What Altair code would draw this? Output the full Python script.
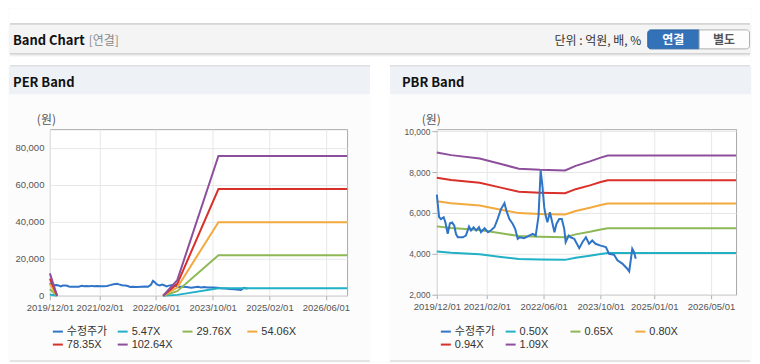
import altair as alt
import pandas as pd

# ---------------- data ----------------
price_dates = [
    "2019-12-01", "2019-12-20", "2020-01-05", "2020-01-28", "2020-02-12", "2020-03-03",
    "2020-03-22", "2020-04-10", "2020-04-28", "2020-05-12", "2020-05-28", "2020-07-10",
    "2020-08-05", "2020-09-01", "2020-09-18", "2020-10-10", "2020-11-01", "2020-11-25",
    "2020-12-12", "2021-01-12", "2021-02-10", "2021-03-06", "2021-04-06", "2021-05-03",
    "2021-06-01", "2021-07-01", "2021-07-18", "2021-08-12", "2021-09-10", "2021-10-01",
    "2021-10-22", "2021-11-10", "2021-12-15", "2022-01-28", "2022-02-28", "2022-03-25",
    "2022-04-18", "2022-05-06", "2022-05-21", "2022-06-06", "2022-06-18", "2022-07-03",
    "2022-07-24", "2022-08-10", "2022-09-01", "2022-09-18", "2022-10-12", "2022-11-03",
    "2022-11-24", "2022-12-06", "2023-01-01", "2023-01-18", "2023-02-18", "2023-04-01",
    "2023-04-28", "2023-05-28", "2023-06-24", "2023-07-21", "2023-08-18", "2023-10-01",
    "2023-11-15", "2023-12-12", "2024-01-24", "2024-02-21", "2024-04-03", "2024-05-15",
    "2024-06-01", "2024-06-12", "2024-06-27", "2024-07-12", "2024-07-27",
]
price_vals = [
    6900, 5800, 5700, 5790, 5540, 4980,
    5500, 5540, 5380, 4980, 4810, 4810,
    4890, 5330, 5140, 5300, 5140, 5300,
    5060, 5250, 5060, 5140, 5300, 5700,
    6190, 6480, 6100, 5700, 5460, 5210,
    4730, 4810, 4760, 4890, 4980, 4890,
    5850, 8080, 7330, 6270, 5870, 5540,
    6030, 5620, 5060, 5460, 5700, 5700,
    5210, 4570, 4890, 4810, 4730, 4280,
    4570, 4810, 4490, 4650, 4490, 4400,
    4330, 4000, 3950, 3680, 3520, 3270,
    3140, 3600, 4250, 4080, 3760,
]

price_name = "수정주가"

# PER band (two separate segments: 0 and 1)
per_names = ["5.47X", "29.76X", "54.06X", "78.35X", "102.64X"]
per_dates = ["2019-12-01", "2020-02-01", "2022-08-01", "2022-12-01", "2023-11-20", "2026-12-01"]
per_segs = [0, 0, 1, 1, 1, 1]
per_547 = [640, 0, 0, 450, 4020, 4020]
per_2976 = [3500, 0, 0, 2440, 21880, 21880]
per_5406 = [6360, 0, 0, 4430, 39750, 39750]
per_7835 = [9210, 0, 0, 6420, 57610, 57610]
per_10264 = [12070, 0, 0, 8420, 75470, 75470]

# PBR band
pbr_names = ["0.50X", "0.65X", "0.80X", "0.94X", "1.09X"]
pbr_dates = ["2019-12-01", "2020-04-01", "2020-12-01", "2021-06-01", "2021-11-01", "2022-05-01",
             "2022-12-01", "2023-03-01", "2023-07-01", "2023-10-01", "2023-12-01", "2026-12-01"]
pbr_050 = [4110, 4050, 3975, 3850, 3745, 3720, 3705, 3810, 3910, 3995, 4040, 4040]
pbr_065 = [5343, 5265, 5168, 5005, 4869, 4836, 4817, 4953, 5083, 5194, 5252, 5252]
pbr_080 = [6576, 6480, 6360, 6160, 5992, 5952, 5928, 6096, 6256, 6392, 6464, 6464]
pbr_094 = [7727, 7614, 7473, 7238, 7041, 6994, 6965, 7163, 7351, 7511, 7595, 7595]
pbr_109 = [8960, 8829, 8666, 8393, 8164, 8110, 8077, 8306, 8524, 8709, 8807, 8807]

per_ticks = [(2019, 12), (2021, 2), (2022, 6), (2023, 10), (2025, 2), (2026, 6)]
pbr_ticks = [(2019, 12), (2021, 2), (2022, 6), (2023, 10), (2025, 1), (2026, 5)]
per_yticks = [0, 20000, 40000, 60000, 80000]
pbr_yticks = [2000, 4000, 6000, 8000, 10000]

colors = ["#2f74c6", "#21b1c6", "#8db855", "#f2a93d", "#d9302a", "#8d4f9c"]

# ---------------- frames ----------------
price_df = pd.DataFrame({"date": price_dates, "value": price_vals, "series": price_name})

per_vals = [per_547, per_2976, per_5406, per_7835, per_10264]
per_df = pd.concat([
    pd.DataFrame({"date": per_dates, "value": v, "series": n, "seg": per_segs})
    for n, v in zip(per_names, per_vals)
], ignore_index=True)

pbr_vals = [pbr_050, pbr_065, pbr_080, pbr_094, pbr_109]
pbr_df = pd.concat([
    pd.DataFrame({"date": pbr_dates, "value": v, "series": n})
    for n, v in zip(pbr_names, pbr_vals)
], ignore_index=True)

one = pd.DataFrame({"k": [0]})

LATIN = "Liberation Sans, Noto Sans CJK KR"
KR = "Noto Sans CJK KR"
RIGHT = 703  # right edge of the page content, relative to the PER plot origin


def dt(y, m):
    return alt.DateTime(year=y, month=m, date=1, utc=True)


def x_enc(ticks):
    return alt.X(
        "date:T",
        scale=alt.Scale(type="utc", domain=[dt(2019, 12), dt(2026, 12)]),
        axis=alt.Axis(
            values=[dt(y, m) for y, m in ticks],
            labelExpr="utcFormat(datum.value, '%Y/%m/%d')",
            title=None, grid=True, gridColor="#e7e7e7", domain=False,
            ticks=True, tickSize=4, tickColor="#b0b0b0",
            labelFont=LATIN, labelFontSize=9.5, labelColor="#555555",
            labelPadding=3, labelFlush=False, labelOverlap=False, labelBound=False,
        ),
    )


def y_enc(domain, ticks, title_x, small):
    return alt.Y(
        "value:Q",
        scale=alt.Scale(domain=domain, nice=False, zero=False),
        axis=alt.Axis(
            values=ticks, format=",d", title="(원)", titleAngle=0,
            titleX=title_x, titleY=-10, titleAlign="center", titleBaseline="middle",
            titleFont=KR, titleFontSize=12, titleFontWeight="normal", titleColor="#555555",
            grid=True, gridColor="#e7e7e7", domain=False,
            ticks=small, tickSize=5, tickColor="#b0b0b0",
            labelPadding=2 if small else 6,
            labelFont=LATIN, labelFontSize=8.5 if small else 9.5, labelColor="#555555",
        ),
    )


def color_enc(names, lx):
    return alt.Color(
        "series:N",
        scale=alt.Scale(domain=[price_name] + names, range=colors),
        legend=alt.Legend(
            title=None, orient="none", legendX=lx, legendY=197, direction="horizontal",
            columns=4, gridAlign="all", columnPadding=6, rowPadding=2,
            symbolType="stroke", symbolSize=100, symbolStrokeWidth=2,
            labelFont=LATIN, labelFontSize=11, labelColor="#333333", labelOffset=3,
            padding=0, labelLimit=200,
        ),
    )


# ---------------- decoration helpers (pixel positions relative to PER plot) ----------------
def rect(x, x2, y, y2, fill, **kw):
    return alt.Chart(one).mark_rect(fill=fill, **kw).encode(
        x=alt.value(x), x2=alt.value(x2), y=alt.value(y), y2=alt.value(y2))


def hline(x, x2, y, color):
    return alt.Chart(one).mark_rule(color=color, strokeWidth=1).encode(
        x=alt.value(x), x2=alt.value(x2), y=alt.value(y))


def label(x, y, s, **kw):
    return alt.Chart(one).mark_text(text=s, baseline="alphabetic", **kw).encode(
        x=alt.value(x), y=alt.value(y))


deco = [
    rect(-41, RIGHT, -120, -105, "white"),
    rect(-41, RIGHT, -105, -75, "#f4f4f4"),
    hline(-40, RIGHT - 1, -105.5, "#b8b8b8"),
    rect(-41, RIGHT, -75, -64, "white"),
    hline(-40, RIGHT - 1, -75.5, "#c2c2c2"),
    hline(-40, RIGHT - 1, -74.5, "#dcdcdc"),
    hline(-40, RIGHT - 1, -73.5, "#eeeeee"),
    label(-37, -84, "Band Chart", font=KR, fontSize=13, fontWeight="bold", color="#111111", align="left"),
    label(39, -84, "[연결]", font=KR, fontSize=12, color="#8a8a8a", align="left"),
    label(593, -84.5, "단위 : 억원, 배, %", font=KR, fontSize=12, color="#333333", align="right"),
    rect(599.5, 651, -99.5, -80.5, "#3372b9", stroke="#2a619f", strokeWidth=1,
         cornerRadiusTopLeft=3, cornerRadiusBottomLeft=3),
    rect(651, 701.5, -99.5, -80.5, "#fdfdfd", stroke="#b0b0b0", strokeWidth=1,
         cornerRadiusTopRight=3, cornerRadiusBottomRight=3),
    label(625, -85.5, "연결", font=KR, fontSize=12, fontWeight="bold", color="white", align="center"),
    label(676, -85.5, "별도", font=KR, fontSize=12, fontWeight="bold", color="#555555", align="center"),
    rect(-41, 321, -63, -35, "#eef2f7"),
    rect(341, RIGHT, -63, -35, "#eef2f7"),
    hline(-40, 321, -63.5, "#d0d0d0"),
    hline(341, RIGHT - 1, -63.5, "#d0d0d0"),
    rect(321, 341, -64, 233, "white"),
    label(-37, -42, "PER Band", font=KR, fontSize=13, fontWeight="bold", color="#111111", align="left"),
    label(353, -42, "PBR Band", font=KR, fontSize=13, fontWeight="bold", color="#111111", align="left"),
    hline(-40, 321, 232.5, "#cccccc"),
    hline(341, RIGHT - 1, 232.5, "#cccccc"),
]

# ---------------- PER panel ----------------
per_x = x_enc(per_ticks)
per_y = y_enc([0, 90000], per_yticks, -4, False)
per_c = color_enc(per_names, 2)

per_price = alt.Chart(price_df).mark_line(strokeWidth=2).encode(x=per_x, y=per_y, color=per_c)
per_band = alt.Chart(per_df).mark_line(strokeWidth=2).encode(
    x=per_x, y=per_y, color=per_c, detail="seg:N")

per = alt.layer(*deco, per_price, per_band).properties(width=298, height=167)

# ---------------- PBR panel ----------------
pbr_x = x_enc(pbr_ticks)
pbr_y = y_enc([2000, 10100], pbr_yticks, -6, True)
pbr_c = color_enc(pbr_names, 3)

pbr_band = alt.Chart(pbr_df).mark_line(strokeWidth=2).encode(x=pbr_x, y=pbr_y, color=pbr_c)
pbr_price = alt.Chart(price_df).mark_line(strokeWidth=2).encode(x=pbr_x, y=pbr_y, color=pbr_c)

pbr = alt.layer(pbr_band, pbr_price).properties(width=300, height=166)

chart = (
    alt.hconcat(per, pbr, spacing=90, bounds="flush")
    .resolve_scale(color="independent", x="independent", y="independent")
    .properties(padding=0, background="#fcfcfc")
    .configure_view(stroke="#a9a9a9", strokeWidth=1, fill="white")
)

chart.save("out.html", embed_options={"renderer": "svg", "actions": False})
